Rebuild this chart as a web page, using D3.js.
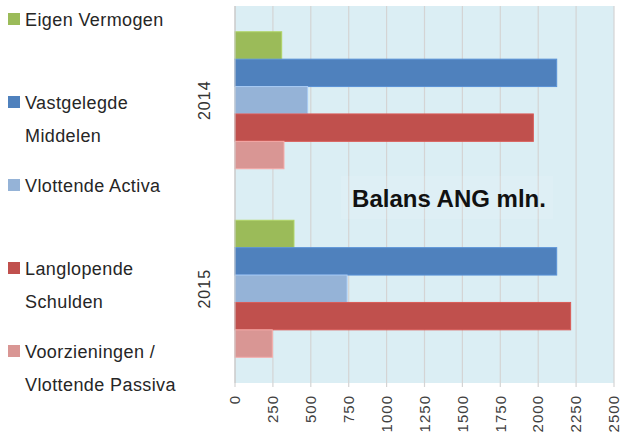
<!DOCTYPE html>
<html>
<head>
<meta charset="utf-8">
<script src="https://cdn.jsdelivr.net/npm/d3@7"></script>
<style>
  html, body { margin: 0; padding: 0; background: #ffffff; }
  svg { display: block; font-family: "Liberation Sans", Arial, sans-serif; }
</style>
</head>
<body>
<svg id="chart" width="622" height="436"></svg>
<script>
// ---- Data ----
const categories = ["2014", "2015"];
const seriesNames = ["Eigen Vermogen", "Vastgelegde Middelen", "Vlottende Activa", "Langlopende Schulden", "Voorzieningen / Vlottende Passiva"];
const legendLines = [["Eigen Vermogen"], ["Vastgelegde", "Middelen"], ["Vlottende Activa"], ["Langlopende", "Schulden"], ["Voorzieningen /", "Vlottende Passiva"]];
const values2014 = [308, 2122, 479, 1968, 323];
const values2015 = [389, 2122, 739, 2214, 246];
const xTicks = [0, 250, 500, 750, 1000, 1250, 1500, 1750, 2000, 2250, 2500];
const colors = ["#9bbb59", "#4f81bd", "#95b3d7", "#c0504d", "#d99694"];
const title = "Balans ANG mln.";

const valuesByCat = { "2014": values2014, "2015": values2015 };

// ---- Layout ----
const plot = { left: 235, right: 614, top: 6, bottom: 383 };
const svg = d3.select("#chart");

const x = d3.scaleLinear().domain([0, 2500]).range([plot.left, plot.right]);
const y = d3.scaleBand().domain(categories).range([plot.top, plot.bottom]).padding(0);
const yInner = d3.scaleBand().domain(seriesNames).range([0, y.bandwidth()]).paddingInner(0).paddingOuter(0.94);

// plot background
svg.append("rect")
  .attr("x", plot.left).attr("y", plot.top)
  .attr("width", plot.right - plot.left).attr("height", plot.bottom - plot.top)
  .attr("fill", "#dbeef4");

// gridlines (extend a bit below as tick marks)
svg.append("g").selectAll("line").data(xTicks).join("line")
  .attr("x1", d => x(d)).attr("x2", d => x(d))
  .attr("y1", plot.top).attr("y2", plot.bottom + 4)
  .attr("stroke", "#d4d4d4").attr("stroke-width", 1.2);

// bars
const groups = svg.append("g").selectAll("g").data(categories).join("g")
  .attr("transform", d => `translate(0,${y(d)})`);
groups.selectAll("rect")
  .data(c => seriesNames.map((s, i) => ({ s, i, v: valuesByCat[c][i] })))
  .join("rect")
  .attr("x", x(0))
  .attr("y", d => yInner(d.s))
  .attr("width", d => x(d.v) - x(0))
  .attr("height", yInner.bandwidth())
  .attr("fill", d => colors[d.i])
  .attr("stroke", d => d3.color(colors[d.i]).brighter(0.35))
  .attr("stroke-width", 1);

// left axis line
svg.append("line")
  .attr("x1", plot.left).attr("x2", plot.left)
  .attr("y1", plot.top).attr("y2", plot.bottom)
  .attr("stroke", "#c8c8c8").attr("stroke-width", 1);

// x tick labels (rotated)
svg.append("g").selectAll("text").data(xTicks).join("text")
  .attr("transform", d => `translate(${x(d)},395) rotate(-90)`)
  .attr("text-anchor", "end")
  .attr("dy", "0.35em")
  .attr("font-size", 15)
  .attr("letter-spacing", 1)
  .attr("fill", "#404040")
  .text(d => d);

// category labels (rotated)
svg.append("g").selectAll("text").data(categories).join("text")
  .attr("transform", d => `translate(204,${y(d) + y.bandwidth() / 2}) rotate(-90)`)
  .attr("text-anchor", "middle")
  .attr("dy", "0.35em")
  .attr("font-size", 16)
  .attr("letter-spacing", 1)
  .attr("fill", "#333333")
  .text(d => d);

// title with faint box
svg.append("rect")
  .attr("x", 341).attr("y", 176).attr("width", 212).attr("height", 43)
  .attr("fill", "#ffffff").attr("fill-opacity", 0.1);
svg.append("text")
  .attr("x", 449).attr("y", 206.5)
  .attr("text-anchor", "middle")
  .attr("font-size", 24)
  .attr("font-weight", "bold")
  .attr("fill", "#111111")
  .text(title);

// legend
const legend = svg.append("g").selectAll("g").data(legendLines).join("g")
  .attr("transform", (d, i) => `translate(0,${26 + i * 83})`);
legend.append("rect")
  .attr("x", 8).attr("y", -13).attr("width", 12).attr("height", 12)
  .attr("fill", (d, i) => colors[i]);
legend.each(function (lines) {
  d3.select(this).selectAll("text").data(lines).join("text")
    .attr("x", 25).attr("y", (l, j) => j * 33)
    .attr("font-size", 18)
    .attr("letter-spacing", 0.4)
    .attr("fill", "#262626")
    .text(l => l);
});
</script>
</body>
</html>
